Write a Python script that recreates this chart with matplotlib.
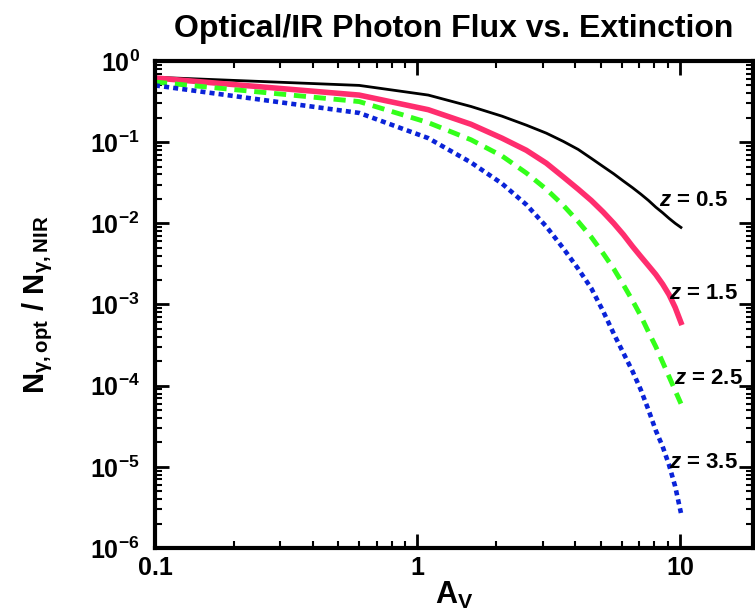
import numpy as np
import matplotlib
matplotlib.use('Agg')
import matplotlib.pyplot as plt
from matplotlib.ticker import NullFormatter

plt.rcParams['font.family'] = ['Liberation Sans', 'DejaVu Sans']
plt.rcParams['font.weight'] = 'bold'
plt.rcParams['mathtext.fontset'] = 'custom'
plt.rcParams['mathtext.rm'] = 'Liberation Sans:bold'
plt.rcParams['mathtext.it'] = 'Liberation Sans:italic:bold'
plt.rcParams['mathtext.bf'] = 'Liberation Sans:bold'

# extinction A_V grid (steps of 0.5 mag)
av = [0.1, 0.6, 1.1, 1.6, 2.1, 2.6, 3.1, 3.6, 4.1, 4.6, 5.1,
      5.6, 6.1, 6.6, 7.1, 7.6, 8.1, 8.6, 9.1, 9.6, 10.1]

# N_opt / N_NIR
flux_z05 = [0.63, 0.50, 0.38, 0.275, 0.209, 0.162, 0.129, 0.102, 0.0813, 0.0631, 0.0501,
            0.0407, 0.0331, 0.0275, 0.0229, 0.0191, 0.0158, 0.0135, 0.0115, 0.0100, 0.0089]
flux_z15 = [0.617, 0.38, 0.251, 0.166, 0.112, 0.0794, 0.055, 0.0372, 0.0263, 0.0191, 0.0138,
            0.0100, 0.00724, 0.0052, 0.0039, 0.0030, 0.00234, 0.00178, 0.00132, 0.00092, 0.0006]
flux_z25 = [0.55, 0.316, 0.174, 0.107, 0.0676, 0.0417, 0.0263, 0.0166, 0.0105, 0.00676, 0.00427,
            0.00275, 0.00174, 0.00112, 7.24e-4, 4.57e-4, 3.02e-4, 1.95e-4, 1.29e-4, 8.7e-5, 6.0e-5]
flux_z35 = [0.50, 0.229, 0.112, 0.0562, 0.0309, 0.017, 0.00912, 0.0049, 0.00275, 0.00158, 8.3e-4,
            4.37e-4, 2.51e-4, 1.51e-4, 8.9e-5, 5.0e-5, 2.8e-5, 1.78e-5, 1.05e-5, 5.75e-6, 2.7e-6]

labels = ['0.5', '1.5', '2.5', '3.5']
label_x = [8.3, 9.1, 9.5, 9.1]
label_y = [0.0192, 0.00137, 1.22e-4, 1.12e-5]

xticks = [0.1, 1, 10]
xticklabels = ['0.1', '1', '10']
yexp = [0, -1, -2, -3, -4, -5, -6]

fig = plt.figure(figsize=(7.55, 6.14), dpi=100)
ax = fig.add_axes([0.2053, 0.1075, 0.792, 0.7932])

ax.plot(av, flux_z05, color='black', lw=2)
ax.plot(av, flux_z15, color='#ff2d6e', lw=4)
ax.plot(av, flux_z25, color='#33ff1a', lw=3.5, dashes=(2.5, 1.6))
ax.plot(av, flux_z35, color='#0a23d8', lw=3.3, dashes=(1.1, 0.9))

for lab, x, y in zip(labels, label_x, label_y):
    ax.text(x, y, r'$\mathit{z}$ = ' + lab, fontsize=16, fontweight='bold',
            ha='left', va='center')

ax.set_xscale('log')
ax.set_yscale('log')
ax.set_xlim(0.1, 19)
ax.set_ylim(1e-6, 1)

ax.set_xticks(xticks)
ax.set_xticklabels(xticklabels)
ax.set_yticks([10.0 ** e for e in yexp])
ax.set_yticklabels([r'$10^{%d}$' % e for e in yexp])
ax.xaxis.set_minor_formatter(NullFormatter())
ax.yaxis.set_minor_formatter(NullFormatter())

ax.tick_params(which='both', direction='in', top=True, right=True, labelsize=18)
ax.tick_params(which='major', length=10, width=2)
ax.tick_params(which='minor', length=5, width=1.5)
ax.tick_params(axis='y', pad=11)
ax.tick_params(axis='x', pad=6)
for s in ax.spines.values():
    s.set_linewidth(3)

ax.set_xlabel(r'$\mathrm{A_V}$', fontsize=22, labelpad=0)
ax.set_ylabel(r'$\mathrm{N_{\gamma,opt}\ /\ N_{\gamma,NIR}}$', fontsize=21)
ax.yaxis.set_label_coords(-0.167, 0.5)

fig.text(454 / 755, 0.952, 'Optical/IR Photon Flux vs. Extinction',
         ha='center', va='center', fontsize=23, fontweight='bold')

fig.savefig('out.png', dpi=100)
